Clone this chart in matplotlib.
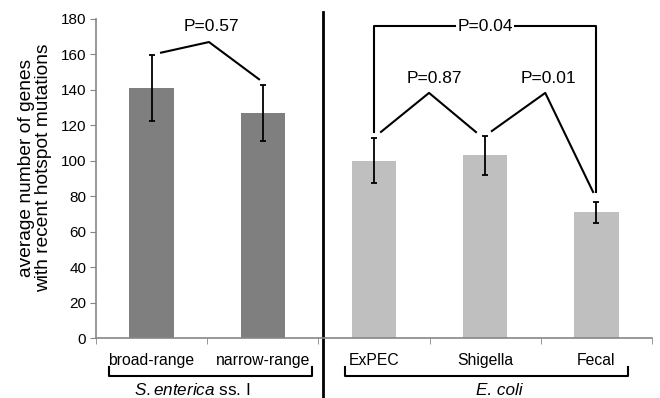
import matplotlib
matplotlib.use("Agg")
import matplotlib.pyplot as plt
import numpy as np

plt.rcParams['font.family'] = ['Liberation Sans', 'DejaVu Sans']
plt.rcParams['mathtext.fontset'] = 'custom'
plt.rcParams['mathtext.it'] = 'Liberation Sans:italic'
plt.rcParams['mathtext.rm'] = 'Liberation Sans'

# data
categories = ['broad-range', 'narrow-range', 'ExPEC', 'Shigella', 'Fecal']
means = [141, 127, 100, 103, 71]
errors = [18.5, 16, 12.8, 11, 6]
groups = ['S', 'S', 'E', 'E', 'E']
pvalues = ['P=0.57', 'P=0.87', 'P=0.01', 'P=0.04']

dark = '#7f7f7f'
light = '#bfbfbf'
axis_grey = '#868686'

fig = plt.figure(figsize=(6.6, 3.98), dpi=100)
ax = fig.add_axes([96 / 660, 1 - 338 / 398, 556 / 660, 319 / 398])

x = np.arange(len(categories))
colors = [dark if g == 'S' else light for g in groups]
ax.bar(x, means, width=0.4, color=colors, zorder=2)
ax.errorbar(x, means, yerr=errors, fmt='none', ecolor='black',
            elinewidth=1.3, capsize=2.5, capthick=1.3, zorder=3)

ax.set_xlim(-0.5, 4.5)
ax.set_ylim(0, 180)
ax.set_yticks(np.arange(0, 181, 20))
ax.set_xticks(x)
ax.set_xticklabels(categories, fontsize=11.3)
ax.set_xticks(np.arange(-0.5, 4.6, 1), minor=True)
ax.tick_params(axis='x', which='major', length=0, pad=11)
ax.tick_params(axis='x', which='minor', length=4, color=axis_grey, direction='out')
ax.tick_params(axis='y', length=4, color=axis_grey, labelsize=11, pad=3)
for s in ['top', 'right']:
    ax.spines[s].set_visible(False)
for s in ['left', 'bottom']:
    ax.spines[s].set_color(axis_grey)
    ax.spines[s].set_linewidth(1.2)

fig.text(35 / 660, 1 - 168 / 398, 'average number of genes\nwith recent hotspot mutations',
         rotation=90, ha='center', va='center', fontsize=13.8,
         multialignment='center', linespacing=1.05)

kw = dict(color='black', lw=1.5, clip_on=False, zorder=4)
top = [m + e for m, e in zip(means, errors)]
pfs = 12.5

# P=0.57 between broad and narrow
ax.plot([0.085, 0.516, 0.966], [top[0] + 1.5, 167, top[1] + 3], **kw)
ax.text(0.534, 175.5, pvalues[0], ha='center', va='center', fontsize=pfs)
# P=0.87 between ExPEC and Shigella
ax.plot([2.063, 2.495, 2.917], [top[2] + 3.5, 138.3, top[3] + 2.2], **kw)
ax.text(2.54, 146.7, pvalues[1], ha='center', va='center', fontsize=pfs)
# P=0.01 between Shigella and Fecal
ax.plot([3.06, 3.54, 3.97], [top[3] + 2.8, 138.3, top[4] + 5.4], **kw)
ax.text(3.57, 146.7, pvalues[2], ha='center', va='center', fontsize=pfs)
# P=0.04 between ExPEC and Fecal
ax.plot([2.0, 2.0, 4.0, 4.0], [top[2] + 3.5, 176, 176, top[4] + 5.4], **kw)
ax.text(3.0, 176, pvalues[3], ha='center', va='center', fontsize=pfs,
        bbox=dict(facecolor='white', edgecolor='none', pad=1), zorder=5)

# divider between species
ax.plot([1.54, 1.54], [184, -34], color='black', lw=2, clip_on=False)

# group braces
ax.plot([-0.383, -0.383, 1.442, 1.442], [-16.4, -21.2, -21.2, -16.4], **kw)
ax.plot([1.74, 1.74, 4.28, 4.28], [-16.4, -21.2, -21.2, -16.4], **kw)
ax.text(0.37, -29.6, r'$\mathit{S.enterica}$ ss. I', ha='center', va='center',
        fontsize=12.3, clip_on=False)
ax.text(3.13, -29.6, 'E. coli', style='italic', ha='center', va='center',
        fontsize=12.3, clip_on=False)

plt.savefig('out.png', dpi=100)
